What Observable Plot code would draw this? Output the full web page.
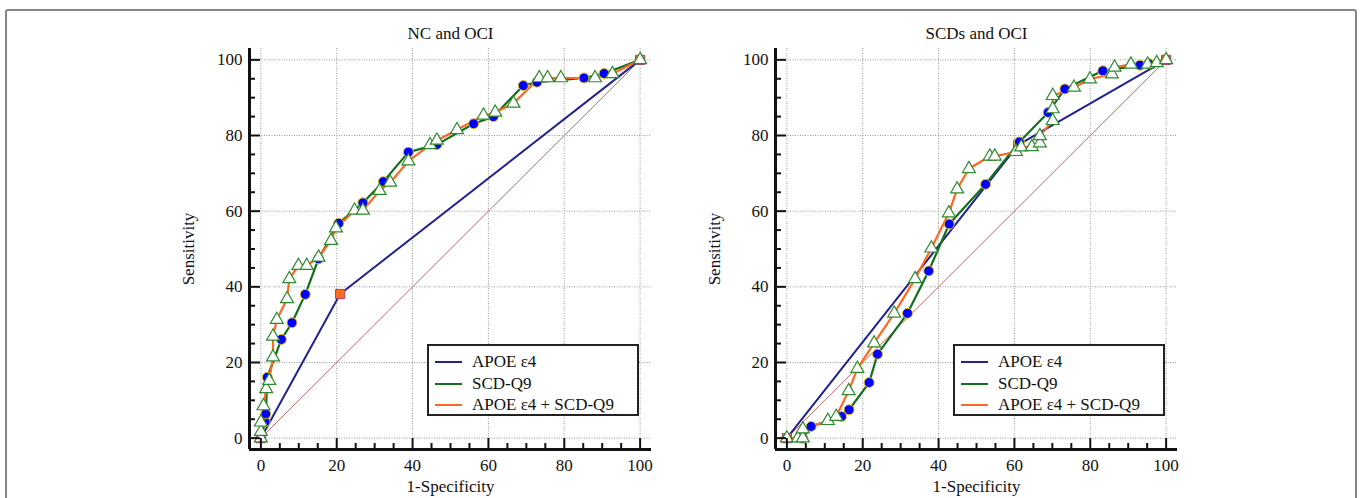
<!DOCTYPE html>
<html>
<head>
<meta charset="utf-8">
<script src="https://cdn.jsdelivr.net/npm/d3@7"></script>
<script src="https://cdn.jsdelivr.net/npm/@observablehq/plot@0.6"></script>
<style>
  body { margin: 0; background: #fff; }
  #fig { position: relative; width: 1360px; height: 498px; overflow: hidden;
         font-family: "Liberation Serif", "Times New Roman", serif; }
  #border { position: absolute; left: 5px; top: 9px; width: 1348px; height: 520px;
            border: 2px solid #858585; border-radius: 3px; }
  .panel { position: absolute; top: 0; }
  .legend { position: absolute; top: 344px; width: 208px; height: 68px;
            border: 2px solid #222; background: #fff; }
  .row { position: absolute; left: 6px; height: 22px; line-height: 22px;
         font-size: 17px; color: #111; white-space: nowrap; }
  .swatch { display: inline-block; width: 27px; height: 2px; vertical-align: middle;
            margin-right: 10px; position: relative; top: -1px; }
</style>
</head>
<body>
<div id="fig"><div id="border"></div></div>
<script>
// ---- data ----
const seriesNames = ["APOE ε4", "SCD-Q9", "APOE ε4 + SCD-Q9"];
const panelTitles = ["NC and OCI", "SCDs and OCI"];
const majorTicks = [0, 20, 40, 60, 80, 100];
const minorTicks = [5, 10, 15, 25, 30, 35, 45, 50, 55, 65, 70, 75, 85, 90, 95];
const axisDomain = [-3, 103];
const diagonal = [[0, 0], [100, 100]];

// NC and OCI
const ncApoe = [[0, 0], [20.9, 38.1], [100, 100]];
const ncScd = [[0, 0], [1.1, 4.3], [1.3, 6.4], [1.7, 16.1], [5.4, 26.1], [8.2, 30.5], [11.7, 38.0],
  [15.2, 47.4], [20.5, 56.8], [26.9, 62.2], [32.3, 67.8], [38.9, 75.6], [46.4, 77.6], [56.1, 83.1],
  [61.3, 85.0], [69.2, 93.2], [72.8, 94.1], [85.2, 95.2], [90.5, 96.4], [100, 100]];
const ncCombo = [[0, 0], [0, 1.7], [0, 4.2], [0.7, 8.5], [1.4, 13.0], [2.2, 15.2], [3.2, 21.4],
  [3.2, 26.9], [4.2, 31.3], [6.9, 36.8], [7.5, 42.1], [9.9, 45.6], [12.1, 45.6], [15.2, 47.8],
  [18.5, 52.2], [19.8, 55.5], [24.7, 60.2], [26.9, 60.2], [31.3, 65.4], [34.1, 67.6], [38.9, 73.2],
  [44.6, 77.5], [46.4, 78.7], [51.7, 81.5], [58.7, 85.3], [61.8, 86.1], [66.6, 88.5], [73.4, 95.2],
  [75.6, 95.2], [79.1, 95.2], [88.1, 95.2], [92.7, 96.3], [100, 100]];

// SCDs and OCI
const scdApoe = [[0, 0], [61.0, 77.5], [100, 100]];
const scdScd = [[0, 0], [4.2, 0], [6.4, 3.1], [14.4, 5.7], [16.4, 7.5], [21.7, 14.7], [23.9, 22.2],
  [31.8, 33.0], [37.4, 44.2], [42.8, 56.6], [52.4, 67.1], [61.3, 78.3], [68.9, 86.1], [73.3, 92.3],
  [83.3, 97.1], [93.1, 98.6], [95.4, 99.0], [100, 100]];
const scdCombo = [[0, 0], [2.9, 0], [4.2, 0], [4.2, 2.4], [10.8, 4.6], [13.0, 5.7], [16.3, 12.5],
  [18.6, 18.4], [23.0, 25.1], [28.3, 33.0], [33.8, 42.1], [38.1, 50.2], [42.7, 59.5], [44.9, 65.8],
  [48.0, 71.2], [53.5, 74.5], [54.8, 74.5], [60.4, 75.7], [61.8, 76.9], [64.6, 77.0], [66.7, 78.0],
  [66.7, 79.9], [70.1, 83.9], [70.1, 87.0], [70.1, 90.5], [75.7, 92.7], [79.9, 94.9], [85.7, 96.2],
  [86.4, 98.0], [90.7, 98.8], [95.1, 98.8], [97.5, 99.2], [100, 100]];

// ---- styles ----
const colors = ["#22228f", "#12701a", "#ff6820"];
const fontFamily = '"Liberation Serif", "Times New Roman", serif';
const X = d => d[0], Y = d => d[1];

function panel(title, apoe, scd, combo) {
  return Plot.plot({
    width: 680, height: 498,
    marginLeft: 249, marginRight: 29, marginTop: 48, marginBottom: 49,
    x: {domain: axisDomain},
    y: {domain: axisDomain},
    style: {fontFamily, fontSize: "17px", background: "transparent", overflow: "visible", color: "#111"},
    marks: [
      Plot.gridX(majorTicks, {stroke: "#999", strokeOpacity: 1, strokeDasharray: "1,1.5"}),
      Plot.gridY(majorTicks, {stroke: "#999", strokeOpacity: 1, strokeDasharray: "1,1.5"}),
      Plot.line(diagonal, {x: X, y: Y, stroke: "#b86a6a", strokeWidth: 1}),
      Plot.line(apoe, {x: X, y: Y, stroke: colors[0], strokeWidth: 2}),
      Plot.line(scd, {x: X, y: Y, stroke: colors[1], strokeWidth: 2.2}),
      Plot.line(combo, {x: X, y: Y, stroke: colors[2], strokeWidth: 2.2}),
      Plot.dot(apoe, {x: X, y: Y, symbol: "square", r: 5.2, fill: "#ff6a1a", stroke: "#a8407a", strokeWidth: 1}),
      Plot.dot(scd.slice(1, -1), {x: X, y: Y, r: 5, fill: "#0000ff", stroke: "#e8c31a", strokeWidth: 1}),
      Plot.dot(combo, {x: X, y: Y, symbol: "triangle", r: 4.8, fill: "#fff", stroke: "#2f8a2f", strokeWidth: 1.2}),
      Plot.ruleX([axisDomain[0]], {stroke: "#111", strokeWidth: 3}),
      Plot.ruleY([axisDomain[0]], {stroke: "#111", strokeWidth: 3}),
      Plot.axisX(majorTicks, {tickSize: 11, dy: -11, text: null, label: null, strokeWidth: 2}),
      Plot.axisX(minorTicks, {tickSize: 6, dy: -6, text: null, label: null, strokeWidth: 2}),
      Plot.axisY(majorTicks, {tickSize: 11, dx: 11, text: null, label: null, strokeWidth: 2}),
      Plot.axisY(minorTicks, {tickSize: 6, dx: 6, text: null, label: null, strokeWidth: 2}),
      Plot.axisX(majorTicks, {tickSize: 0, tickPadding: 9, label: null}),
      Plot.axisY(majorTicks, {tickSize: 0, tickPadding: 7, label: null}),
      Plot.text([title], {text: d => d, frameAnchor: "top", lineAnchor: "middle", textAnchor: "middle", dy: -15, fontSize: 17}),
      Plot.text(["Sensitivity"], {text: d => d, frameAnchor: "left", lineAnchor: "middle", textAnchor: "middle", dx: -61, rotate: -90, fontSize: 17}),
      Plot.text(["1-Specificity"], {text: d => d, frameAnchor: "bottom", lineAnchor: "middle", textAnchor: "middle", dy: 37.5, fontSize: 17})
    ]
  });
}

function legend(left) {
  const box = document.createElement("div");
  box.className = "legend";
  box.style.left = left + "px";
  seriesNames.forEach((name, i) => {
    const row = document.createElement("div");
    row.className = "row";
    row.style.top = (5 + 21.5 * i) + "px";
    const sw = document.createElement("span");
    sw.className = "swatch";
    sw.style.background = colors[i];
    row.appendChild(sw);
    row.appendChild(document.createTextNode(name));
    box.appendChild(row);
  });
  return box;
}

const fig = document.getElementById("fig");
const data = [[ncApoe, ncScd, ncCombo], [scdApoe, scdScd, scdCombo]];
[0, 526].forEach((offset, i) => {
  const wrap = document.createElement("div");
  wrap.className = "panel";
  wrap.style.left = offset + "px";
  wrap.appendChild(panel(panelTitles[i], ...data[i]));
  fig.appendChild(wrap);
  fig.appendChild(legend(427 + offset));
});
</script>
</body>
</html>
